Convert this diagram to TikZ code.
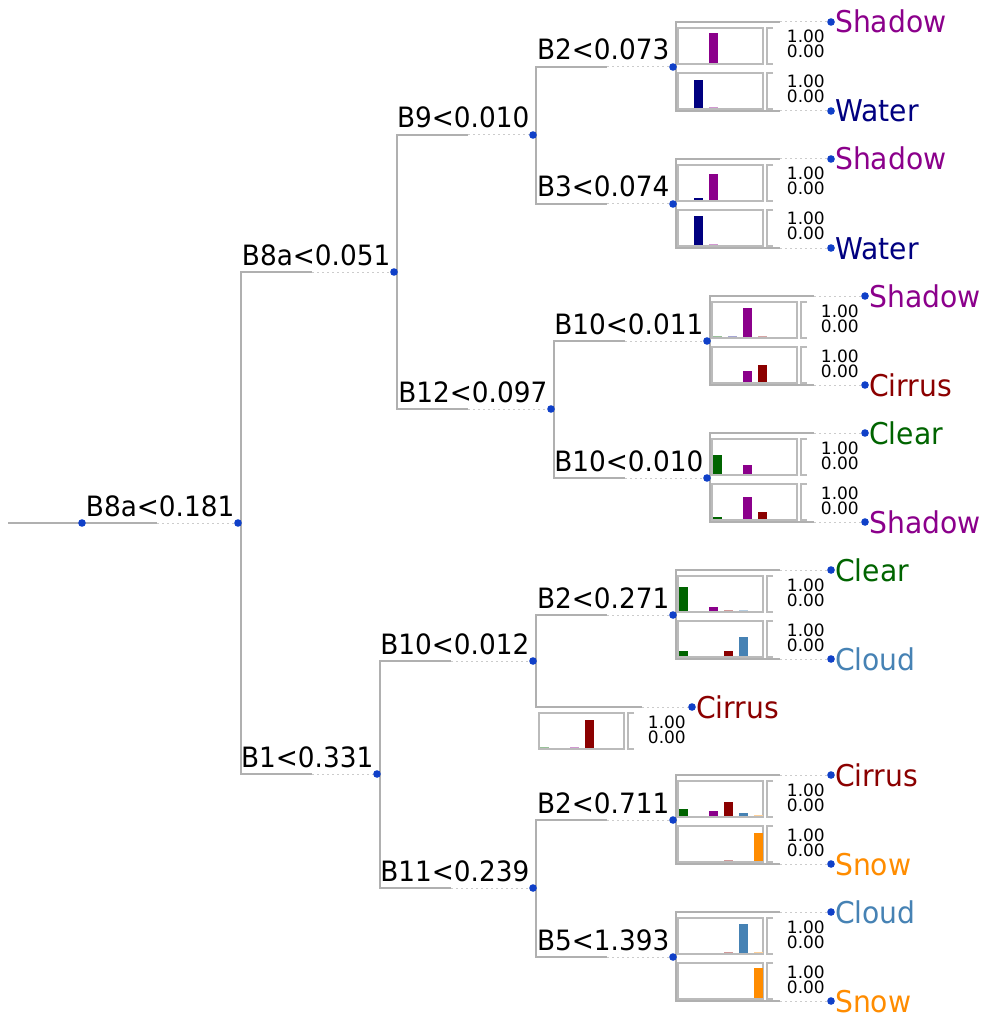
\documentclass[tikz,border=0pt]{standalone}
\usepackage{fontspec}
\setmainfont{DejaVu Sans}
\newfontfamily\condfont[FakeStretch=0.94]{DejaVu Sans}
\usetikzlibrary{calc}
\definecolor{shadowc}{HTML}{8B008B}
\definecolor{waterc}{HTML}{000080}
\definecolor{cirrusc}{HTML}{8B0000}
\definecolor{clearc}{HTML}{006400}
\definecolor{cloudc}{HTML}{4682B4}
\definecolor{snowc}{HTML}{FF8C00}
\definecolor{treec}{HTML}{B0B0B0}
\definecolor{dotlc}{HTML}{CCCCCC}
\definecolor{boxc}{HTML}{BBBBBB}
\definecolor{bluedot}{HTML}{1040C8}
\tikzset{
 tree/.style={draw=treec, line width=1.1pt},
 dotl/.style={draw=dotlc, line width=1pt, dash pattern=on 2pt off 3pt},
 chartbox/.style={draw=boxc, line width=1.3pt},
 lbl/.style={font=\condfont\fontsize{28}{30}\selectfont, inner sep=0pt, text=black, anchor=base east},
 leaf/.style={font=\condfont\fontsize{30}{32}\selectfont, inner sep=0pt, anchor=base west},
 sm/.style={font=\fontsize{17}{19}\selectfont, inner sep=0pt, text height=12.5pt, text depth=0pt, anchor=base east},
 bdot/.style={fill=bluedot},
}
\newcommand\treeedge[3]{%
 \draw[tree] ($(#1)+(3,0)$) |- ($(#1 |- #2)+({3+#3},0)$);
 \draw[dotl] ($(#1 |- #2)+({3+#3},0)$) -- (#2);}
\newcommand\chartat[4]{%
 \draw[chartbox] ({#2},{#3}) rectangle ({#2+85},{#3+36});
 \draw[chartbox] ({#2+95},{#3}) -- ({#2+89},{#3}) -- ({#2+89},{#3+36}) -- ({#2+95},{#3+36});
 \foreach \bk/\bv/\bc in {#4} {\fill[\bc] ({#2+0.75+15*\bk},{#3+35}) rectangle ++(9.5,{-30*\bv});}
 \node[sm] (#1hi) at ({#2+147},{#3+15}) {1.00};
 \node[sm] (#1lo) at ({#2+147},{#3+30}) {0.00};}
\newcommand\splitnode[4]{%
 \coordinate (#1) at (#2,#3);
 \node[lbl] (#1lab) at ({#2-3.5},{#3-7}) {#4};}
\newcommand\leafpair[5]{%
 \coordinate (#1t) at ($(#1)+(158,-45)$);
 \coordinate (#1b) at ($(#1)+(158,44)$);
 \treeedge{#1}{#1t}{104}
 \treeedge{#1}{#1b}{104}
 \node[leaf,text=#3] (#1tl) at ($(#1t)+(4,11)$) {#2};
 \node[leaf,text=#5] (#1bl) at ($(#1b)+(4,11)$) {#4};}
\begin{document}
\begin{tikzpicture}[x=1pt,y=-1pt]
\useasboundingbox (0,0) rectangle (989,1024);
% split nodes
\coordinate (start) at (8,523);
\coordinate (r0) at (82,523);
\splitnode{n0}{238}{523}{B8a<0.181}
\splitnode{n1}{394}{272}{B8a<0.051}
\splitnode{n2}{377}{774}{B1<0.331}
\splitnode{n11}{533}{135}{B9<0.010}
\splitnode{n12}{551}{409}{B12<0.097}
\splitnode{n21}{533}{661}{B10<0.012}
\splitnode{n22}{533}{888}{B11<0.239}
\splitnode{g1}{673}{67}{B2<0.073}
\splitnode{g2}{673}{204}{B3<0.074}
\splitnode{g3}{707}{341}{B10<0.011}
\splitnode{g4}{707}{478}{B10<0.010}
\splitnode{g5}{673}{615}{B2<0.271}
\splitnode{g6}{673}{820}{B2<0.711}
\splitnode{g7}{673}{957}{B5<1.393}
\coordinate (lc) at (692,707);
% charts
\chartat{g1a}{678}{28}{2/1.0/shadowc}
\chartat{g1b}{678}{73}{1/0.93/waterc, 2/0.03/shadowc!40}
\chartat{g2a}{678}{165}{1/0.07/waterc, 2/0.87/shadowc}
\chartat{g2b}{678}{210}{1/0.97/waterc, 2/0.03/shadowc!40}
\chartat{g3a}{712}{302}{0/0.03/clearc!40, 1/0.03/waterc!35, 2/0.97/shadowc, 3/0.03/cirrusc!35}
\chartat{g3b}{712}{347}{2/0.37/shadowc, 3/0.57/cirrusc}
\chartat{g4a}{712}{439}{0/0.62/clearc, 2/0.3/shadowc}
\chartat{g4b}{712}{484}{0/0.06/clearc, 2/0.73/shadowc, 3/0.25/cirrusc}
\chartat{g5a}{678}{576}{0/0.8/clearc, 2/0.13/shadowc, 3/0.05/cirrusc!40, 4/0.03/cloudc!40}
\chartat{g5b}{678}{621}{0/0.17/clearc, 3/0.17/cirrusc, 4/0.63/cloudc}
\chartat{g6a}{678}{781}{0/0.23/clearc, 2/0.17/shadowc, 3/0.47/cirrusc, 4/0.1/cloudc, 5/0.03/snowc!40}
\chartat{g6b}{678}{826}{3/0.03/cirrusc!40, 5/0.93/snowc}
\chartat{g7a}{678}{918}{3/0.03/cirrusc!40, 4/0.97/cloudc, 5/0.03/snowc!40}
\chartat{g7b}{678}{963}{5/1.0/snowc}
\chartat{lca}{539}{713}{0/0.02/clearc!40, 2/0.03/shadowc!40, 3/0.93/cirrusc}
% edges
\draw[tree] (start) -- ($(start)+(149,0)$);
\draw[dotl] ($(start)+(149,0)$) -- (n0);
\treeedge{n0}{n1}{71}
\treeedge{n0}{n2}{71}
\treeedge{n1}{n11}{71}
\treeedge{n1}{n12}{71}
\treeedge{n2}{n21}{71}
\treeedge{n2}{n22}{71}
\treeedge{n11}{g1}{71}
\treeedge{n11}{g2}{71}
\treeedge{n12}{g3}{71}
\treeedge{n12}{g4}{71}
\treeedge{n21}{g5}{71}
\treeedge{n21}{lc}{106}
\treeedge{n22}{g6}{71}
\treeedge{n22}{g7}{71}
% leaves
\leafpair{g1}{Shadow}{shadowc}{Water}{waterc}
\leafpair{g2}{Shadow}{shadowc}{Water}{waterc}
\leafpair{g3}{Shadow}{shadowc}{Cirrus}{cirrusc}
\leafpair{g4}{Clear}{clearc}{Shadow}{shadowc}
\leafpair{g5}{Clear}{clearc}{Cloud}{cloudc}
\leafpair{g6}{Cirrus}{cirrusc}{Snow}{snowc}
\leafpair{g7}{Cloud}{cloudc}{Snow}{snowc}
\node[leaf,text=cirrusc] (lcl) at ($(lc)+(4,11)$) {Cirrus};
% dots
\foreach \p in {r0,n0,n1,n2,n11,n12,n21,n22,g1,g2,g3,g4,g5,g6,g7,lc,g1t,g1b,g2t,g2b,g3t,g3b,g4t,g4b,g5t,g5b,g6t,g6b,g7t,g7b}
 \fill[bdot] (\p) circle (3.8pt);
\end{tikzpicture}
\end{document}
